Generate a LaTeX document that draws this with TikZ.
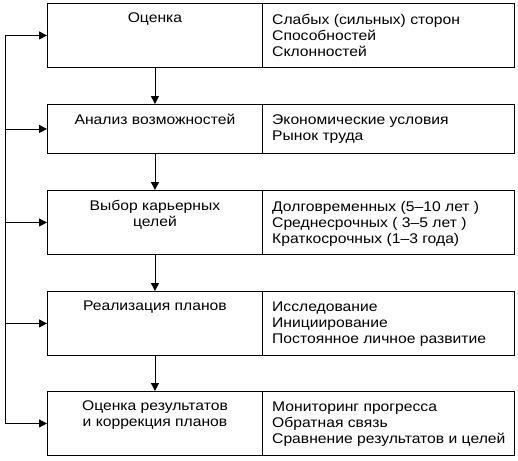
\documentclass[tikz,border=0pt]{standalone}
\usepackage{fontspec}
\setmainfont[FakeStretch=1.12]{Liberation Sans}
\usetikzlibrary{arrows.meta}
\tikzset{
  box/.style={draw, line width=0.9pt, inner sep=0pt, anchor=north west},
  lt/.style={anchor=north, align=center, inner sep=0pt, font=\fontsize{14}{16}\selectfont},
  rt/.style={anchor=north west, align=left, inner sep=0pt, font=\fontsize{14}{16}\selectfont},
  arr/.style={line width=0.9pt, -{Triangle[length=8pt,width=8pt]}},
  ln/.style={line width=0.9pt}
}
\begin{document}
\begin{tikzpicture}[x=1pt,y=-1pt]
\useasboundingbox (0,0) rectangle (518,460);
% boxes
\node[box, minimum width=215, minimum height=64] (L1) at (47,3) {};
\node[box, minimum width=252, minimum height=64] (R1) at (262,3) {};
\node[box, minimum width=215, minimum height=49] (L2) at (47,104) {};
\node[box, minimum width=252, minimum height=49] (R2) at (262,104) {};
\node[box, minimum width=215, minimum height=64] (L3) at (47,190) {};
\node[box, minimum width=252, minimum height=64] (R3) at (262,190) {};
\node[box, minimum width=215, minimum height=64] (L4) at (47,291) {};
\node[box, minimum width=252, minimum height=64] (R4) at (262,291) {};
\node[box, minimum width=215, minimum height=64] (L5) at (47,391) {};
\node[box, minimum width=252, minimum height=64] (R5) at (262,391) {};
% texts
\node[lt] (t1) at ([yshift=-10]L1.north) {Оценка};
\node[rt] (s1) at ([xshift=10,yshift=-11]R1.north west) {Слабых (сильных) сторон\\Способностей\\Склонностей};
\node[lt] (t2) at ([yshift=-10]L2.north) {Анализ возможностей};
\node[rt] (s2) at ([xshift=10,yshift=-11]R2.north west) {Экономические условия\\Рынок труда};
\node[lt] (t3) at ([yshift=-10]L3.north) {Выбор карьерных\\целей};
\node[rt] (s3) at ([xshift=10,yshift=-11]R3.north west) {Долговременных (5–10 лет )\\Среднесрочных ( 3–5 лет )\\Краткосрочных (1–3 года)};
\node[lt] (t4) at ([yshift=-10]L4.north) {Реализация планов};
\node[rt] (s4) at ([xshift=10,yshift=-11]R4.north west) {Исследование\\Инициирование\\Постоянное личное развитие};
\node[lt] (t5) at ([yshift=-10]L5.north) {Оценка результатов\\и коррекция планов};
\node[rt] (s5) at ([xshift=10,yshift=-11]R5.north west) {Мониторинг прогресса\\Обратная связь\\Сравнение результатов и целей};
% down arrows
\draw[arr] (L1.south) -- (L2.north);
\draw[arr] (L2.south) -- (L3.north);
\draw[arr] (L3.south) -- (L4.north);
\draw[arr] (L4.south) -- (L5.north);
% feedback
\coordinate (fbx) at (5,0);
\draw[ln] (L1.west -| fbx) -- (L5.west -| fbx);
\draw[arr] (L1.west -| fbx) -- (L1.west);
\draw[arr] (L2.west -| fbx) -- (L2.west);
\draw[arr] (L3.west -| fbx) -- (L3.west);
\draw[arr] (L4.west -| fbx) -- (L4.west);
\draw[arr] (L5.west -| fbx) -- (L5.west);
\end{tikzpicture}
\end{document}
